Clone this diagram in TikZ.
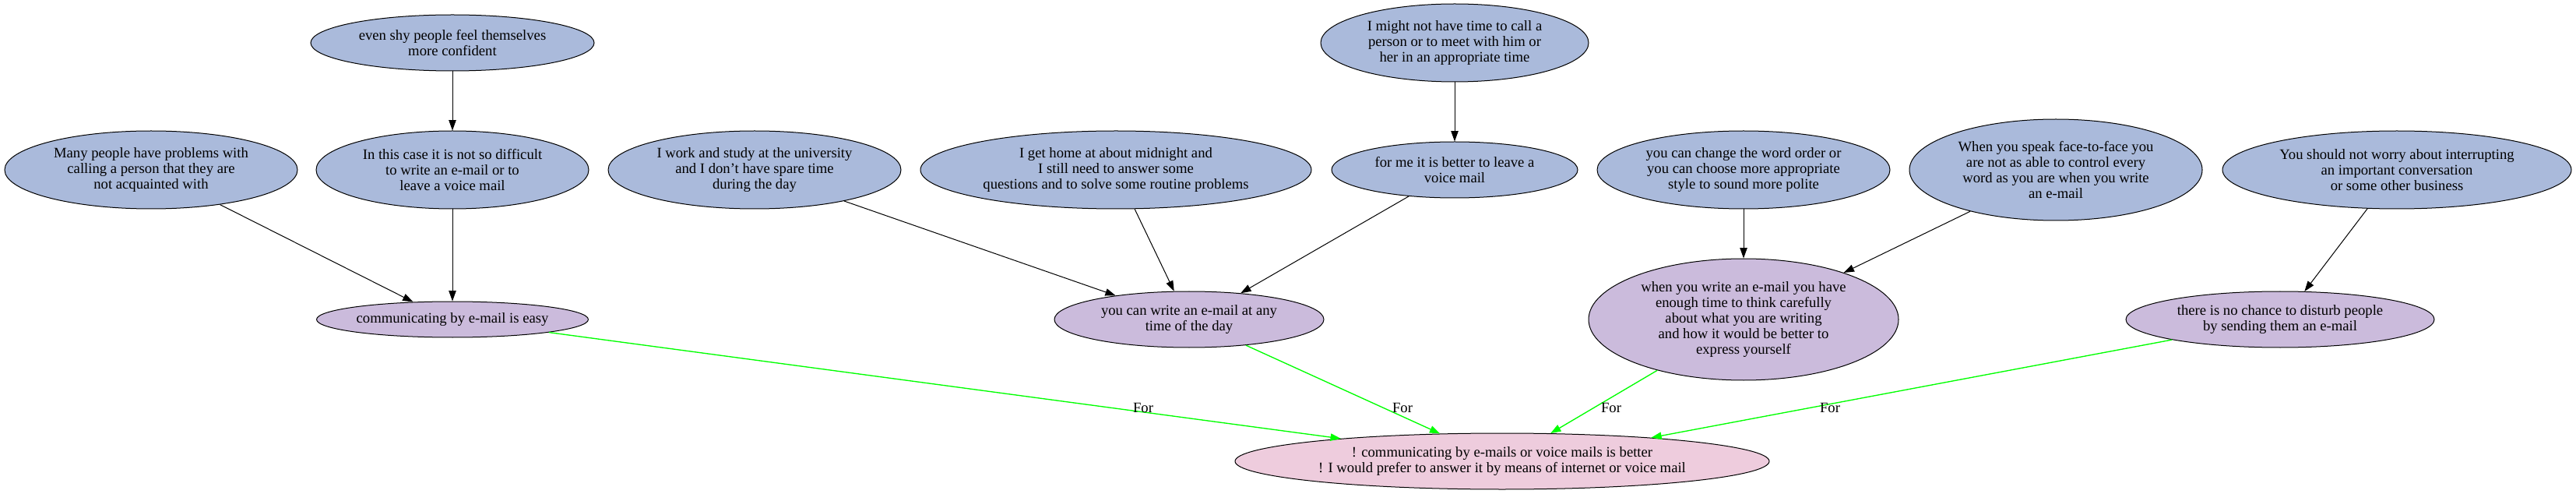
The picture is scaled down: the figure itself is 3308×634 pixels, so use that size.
\documentclass[tikz,border=0pt]{standalone}
\usepackage{fontspec}
\setmainfont{Liberation Serif}
\usetikzlibrary{shapes.geometric,arrows.meta}
\definecolor{premblue}{RGB}{170,186,219}
\definecolor{claimpurple}{RGB}{203,187,220}
\definecolor{thesispink}{RGB}{238,204,221}
\definecolor{forgreen}{RGB}{0,255,0}
\tikzset{
  arg/.style={ellipse, draw=black, line width=0.75pt, inner sep=0pt, align=center,
    font=\fontsize{14}{15}\selectfont},
  premise/.style={arg, fill=premblue},
  claim/.style={arg, fill=claimpurple},
  thesis/.style={arg, fill=thesispink},
  support/.style={-{Triangle[length=10pt,width=7pt]}, line width=0.75pt, draw=black},
  pro/.style={-{Triangle[length=10pt,width=7pt]}, line width=1pt, draw=forgreen, fill=forgreen},
  forlabel/.style={font=\fontsize{14}{15}\selectfont, inner sep=0pt},
}
\begin{document}
\begin{tikzpicture}[x=0.75pt, y=-0.75pt]
\useasboundingbox (0,0) rectangle (3308,634);
% premises
\node[premise, minimum width=273pt, minimum height=54pt] (shy) at (581,55)
  {even shy people feel themselves\\more confident};
\node[premise, minimum width=282pt, minimum height=75pt] (many) at (194,218)
  {Many people have problems with\\calling a person that they are\\not acquainted with};
\node[premise, minimum width=262.5pt, minimum height=75pt] (case) at (581,218)
  {In this case it is not so difficult\\to write an e-mail or to\\leave a voice mail};
\node[premise, minimum width=282pt, minimum height=75pt] (work) at (969,218)
  {I work and study at the university\\and I don't have spare time\\during the day};
\node[premise, minimum width=376.5pt, minimum height=75pt] (home) at (1433,218)
  {I get home at about midnight and\\I still need to answer some\\questions and to solve some routine problems};
\node[premise, minimum width=258pt, minimum height=75pt] (might) at (1868,55)
  {I might not have time to call a\\person or to meet with him or\\her in an appropriate time};
\node[premise, minimum width=237pt, minimum height=54pt] (forme) at (1868,218)
  {for me it is better to leave a\\voice mail};
\node[premise, minimum width=282pt, minimum height=75pt] (change) at (2239,218)
  {you can change the word order or\\you can choose more appropriate\\style to sound more polite};
\node[premise, minimum width=282pt, minimum height=97.5pt] (speak) at (2640,218)
  {When you speak face-to-face you\\are not as able to control every\\word as you are when you write\\an e-mail};
\node[premise, minimum width=336pt, minimum height=75pt] (should) at (3078,218)
  {You should not worry about interrupting\\an important conversation\\or some other business};
% claims
\node[claim, minimum width=258pt, minimum height=34.5pt] (easy) at (581,410)
  {communicating by e-mail is easy};
\node[claim, minimum width=259.5pt, minimum height=54pt] (anytime) at (1527,410)
  {you can write an e-mail at any\\time of the day};
\node[claim, minimum width=298.5pt, minimum height=117pt] (careful) at (2239,410)
  {when you write an e-mail you have\\enough time to think carefully\\about what you are writing\\and how it would be better to\\express yourself};
\node[claim, minimum width=297pt, minimum height=54pt] (nochance) at (2928,410)
  {there is no chance to disturb people\\by sending them an e-mail};
% thesis
\node[thesis, minimum width=514.5pt, minimum height=54pt] (main) at (1929,592)
  {! communicating by e-mails or voice mails is better\\! I would prefer to answer it by means of internet or voice mail};
% support edges
\draw[support] (shy) -- (case);
\draw[support] (might) -- (forme);
\draw[support] (many) -- (easy.156);
\draw[support] (case) -- (easy);
\draw[support] (work) -- (anytime.162.5);
\draw[support] (home) -- (anytime.118.5);
\draw[support] (forme) -- (anytime.27.6);
\draw[support] (change) -- (careful);
\draw[support] (speak) -- (careful.25.1);
\draw[support] (should) -- (nochance.49);
% pro edges
\draw[pro] (easy) -- (main.172.7);
\draw[pro] (anytime) -- (main.156.6);
\draw[pro] (careful) -- (main.30.3);
\draw[pro] (nochance) -- (main.9.9);
% labels
\node[forlabel] (l1) at (1468,523) {For};
\node[forlabel] (l2) at (1801,523) {For};
\node[forlabel] (l3) at (2069,523) {For};
\node[forlabel] (l4) at (2350,523) {For};
\end{tikzpicture}
\end{document}
